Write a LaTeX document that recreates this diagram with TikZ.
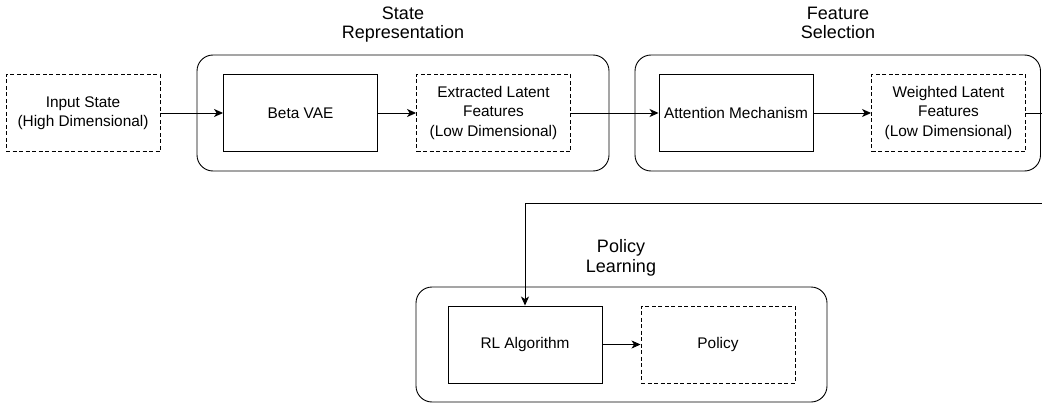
\documentclass[tikz,border=0pt]{standalone}
\usepackage{fontspec}
\setmainfont{Liberation Sans}
\usetikzlibrary{arrows.meta}

\begin{document}
\begin{tikzpicture}[x=1pt, y=-1pt, line width=0.9pt,
    every node/.style={font=\fontsize{15.4}{19.5}\selectfont, align=center, inner sep=0pt},
    proc/.style={draw, minimum width=154pt, minimum height=77pt},
    data/.style={proc, dash pattern=on 4pt off 2.5pt},
    group/.style={draw, rounded corners=16pt},
    grouptitle/.style={font=\fontsize{18}{19.5}\selectfont},
    flow/.style={-{Stealth[length=9pt, width=8pt, inset=2.5pt]}}]

    % page frame
    \useasboundingbox (0,0) rectangle (1042,404);
    \clip (0,0) rectangle (1042,404);

    % groups (drawn first, boxes sit on top)
    \node[group, minimum width=412pt, minimum height=116pt] (staterep) at (403,113) {};
    \node[group, minimum width=405.5pt, minimum height=116pt] (featsel) at (837.75,113) {};
    \node[group, minimum width=411pt, minimum height=115pt] (polearn) at (621.5,344.5) {};

    % group titles (base = last line)
    \node[grouptitle, anchor=base] (staterep-t) at (403,39) {State\\Representation};
    \node[grouptitle, anchor=base] (featsel-t) at (838,39) {Feature\\Selection};
    \node[grouptitle, anchor=base] (polearn-t) at (621,272) {Policy\\Learning};

    % top row
    \node[data] (input) at (83,113) {Input State\\(High Dimensional)};
    \node[proc] (vae) at (300.5,113) {Beta VAE};
    \node[data] (latent) at (493.5,113) {Extracted Latent\\Features\\(Low Dimensional)};
    \node[proc] (attn) at (736,113) {Attention Mechanism};
    \node[data] (weighted) at (948.5,113) {Weighted Latent\\Features\\(Low Dimensional)};

    % bottom row
    \node[proc] (rl) at (525,344.5) {RL Algorithm};
    \node[data] (policy) at (718,344.5) {Policy};

    % connectors
    \draw[flow] (input) -- (vae);
    \draw[flow] (vae) -- (latent);
    \draw[flow] (latent) -- (attn);
    \draw[flow] (attn) -- (weighted);
    \draw[flow] (weighted.east) -- ++(34,0) -- ++(0,90) -| (rl.north);
    \draw[flow] (rl) -- (policy);

\end{tikzpicture}
\end{document}
